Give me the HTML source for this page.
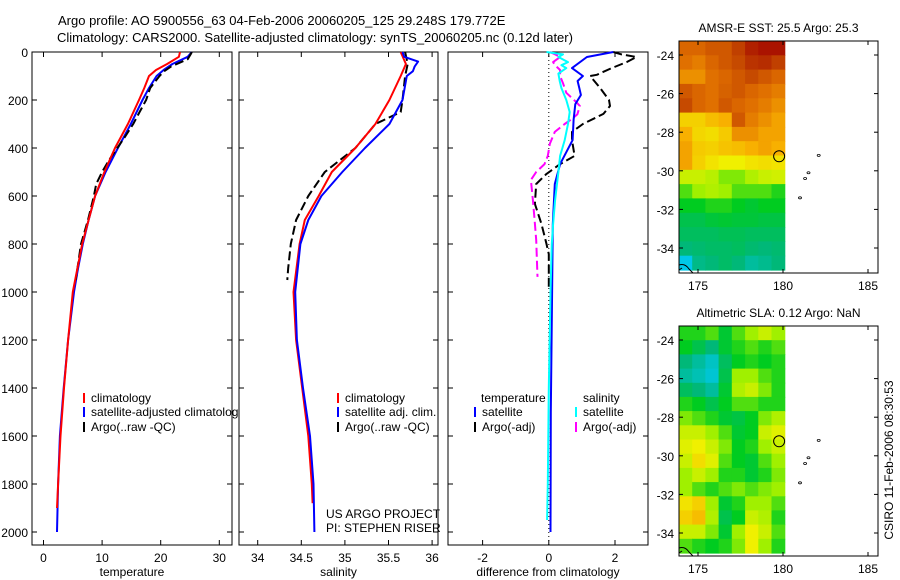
<!DOCTYPE html>
<html><head><meta charset="utf-8"><title>Argo profile</title>
<style>
html,body{margin:0;padding:0;background:#fff;}
svg{display:block;font-family:"Liberation Sans",sans-serif;}
text{font-size:12px;fill:#000;}
</style></head>
<body>
<svg id="fig" width="900" height="580" viewBox="0 0 900 580" xmlns="http://www.w3.org/2000/svg">
<rect x="0" y="0" width="900" height="580" fill="#fff"/>
<text x="58" y="25" style="font-size:13px">Argo profile: AO 5900556_63 04-Feb-2006 20060205_125 29.248S 179.772E</text>
<text x="57" y="42" style="font-size:13px">Climatology: CARS2000. Satellite-adjusted climatology: synTS_20060205.nc (0.12d later)</text>
<text transform="translate(893,460) rotate(-90)" text-anchor="middle">CSIRO 11-Feb-2006 08:30:53</text>
</svg>
<script>
// ---------- DATA ----------
const depthTicks = [0,200,400,600,800,1000,1200,1400,1600,1800,2000];
const tempTicks = [0,10,20,30];
const salTicks = [34,34.5,35,35.5,36];
const diffTicks = [-2,0,2];

const tClimDepth = [0,20,50,75,100,150,200,300,400,500,600,700,800,900,1000,1200,1400,1600,1800,1900];
const tClimVal   = [23.3,23.1,21.1,19.2,18.0,17.2,16.3,14.4,12.2,10.4,8.8,7.7,6.6,5.8,5.0,4.2,3.5,2.9,2.5,2.3];
const tSatDepth  = [0,20,50,75,100,150,200,300,400,500,600,700,800,900,1000,1200,1400,1600,1800,2000];
const tSatVal    = [25.3,24.6,22.0,20.5,19.3,18.0,16.9,14.9,12.7,10.6,8.8,7.7,6.7,5.9,5.2,4.2,3.45,2.8,2.5,2.3];
const tArgoDepth = [0,10,30,60,80,100,150,200,250,300,350,400,450,500,550,600,700,800,900,950];
const tArgoVal   = [25.3,25.1,24.6,21.8,20.6,19.8,18.2,17.5,16.4,15.3,14.0,12.6,11.2,10.0,9.0,8.6,7.6,6.4,5.8,5.5];

const sClimDepth = [0,50,100,200,300,400,500,600,700,800,1000,1200,1400,1600,1800,1880];
const sClimVal   = [35.64,35.70,35.64,35.51,35.35,35.12,34.85,34.70,34.54,34.48,34.41,34.44,34.51,34.58,34.62,34.63];
const sSatDepth  = [0,20,40,60,80,100,200,300,400,500,600,700,800,1000,1200,1400,1600,1800,2000];
const sSatVal    = [35.66,35.68,35.84,35.80,35.78,35.71,35.66,35.51,35.23,34.97,34.73,34.58,34.49,34.43,34.45,34.52,34.60,34.64,34.65];
const sArgoDepth = [0,50,100,200,250,300,400,500,600,700,800,900,950];
const sArgoVal   = [35.69,35.72,35.69,35.66,35.64,35.35,35.12,34.77,34.58,34.44,34.38,34.35,34.34];

const dTSatDepth = [0,21,67,100,121,150,179,217,283,367,467,550,717,1000,1500,2000];
const dTSatVal   = [1.95,1.15,0.7,1.03,0.87,0.92,0.97,0.8,0.75,0.72,0.34,0.18,0.12,0.1,0.06,0.05];
const dTArgoDepth = [0,10,21,42,67,95,100,150,200,225,258,300,333,367,433,467,508,550,633,717,800,842,990];
const dTArgoVal   = [1.95,2.2,2.65,2.35,1.9,1.45,1.25,1.55,1.82,1.85,1.65,1.03,0.7,0.7,0.78,0.34,-0.07,-0.38,-0.42,-0.22,-0.07,0,0];
const dSSatDepth = [0,10,21,42,55,67,90,121,150,200,250,300,367,433,500,617,717,800,1000,1400,1800,1950];
const dSSatVal   = [-0.07,0.43,0.29,0.58,0.38,0.53,0.29,0.33,0.38,0.53,0.63,0.58,0.48,0.34,0.29,0.19,0.13,0.09,0.05,0.0,-0.03,-0.05];
const dSArgoDepth = [0,10,21,42,55,75,100,130,170,210,225,260,280,300,333,383,433,467,500,533,617,700,783,937];
const dSArgoVal   = [0.03,0.19,0.34,0.13,0.19,0.34,0.34,0.43,0.53,0.84,0.94,0.86,0.69,0.48,0.18,0.03,-0.03,-0.13,-0.38,-0.54,-0.48,-0.43,-0.38,-0.34];

const lonTicks = [175,180,185];
const latTicks = [-24,-26,-28,-30,-32,-34];
const islandLon = [182.1,181.5,181.3,181.0];
const islandLat = [-29.2,-30.1,-30.4,-31.4];
const sstGrid = [
[0.82,0.82,0.85,0.85,0.9,0.95,0.97,0.97],
[0.8,0.78,0.82,0.85,0.88,0.92,0.93,0.9],
[0.75,0.75,0.8,0.82,0.85,0.88,0.85,0.82],
[0.85,0.82,0.8,0.83,0.85,0.82,0.8,0.78],
[0.88,0.82,0.8,0.85,0.82,0.8,0.78,0.75],
[0.65,0.65,0.68,0.7,0.85,0.78,0.75,0.72],
[0.7,0.64,0.63,0.66,0.75,0.75,0.72,0.72],
[0.72,0.66,0.65,0.67,0.68,0.7,0.72,0.7],
[0.72,0.65,0.62,0.6,0.6,0.62,0.63,0.62],
[0.55,0.55,0.53,0.48,0.48,0.52,0.55,0.56],
[0.45,0.5,0.52,0.5,0.45,0.45,0.45,0.42],
[0.4,0.4,0.42,0.42,0.4,0.38,0.4,0.4],
[0.35,0.35,0.37,0.38,0.37,0.37,0.36,0.36],
[0.33,0.33,0.33,0.34,0.34,0.33,0.33,0.33],
[0.3,0.31,0.32,0.32,0.33,0.31,0.3,0.31],
[0.15,0.28,0.3,0.32,0.3,0.25,0.27,0.3]];
const slaGrid = [
[0.42,0.42,0.45,0.38,0.45,0.5,0.55,0.5],
[0.4,0.35,0.3,0.38,0.42,0.45,0.42,0.45],
[0.3,0.25,0.2,0.33,0.4,0.42,0.4,0.42],
[0.25,0.22,0.18,0.35,0.5,0.5,0.45,0.42],
[0.33,0.3,0.25,0.38,0.52,0.55,0.48,0.42],
[0.42,0.4,0.35,0.4,0.45,0.45,0.42,0.42],
[0.48,0.45,0.42,0.38,0.36,0.4,0.48,0.52],
[0.55,0.55,0.5,0.45,0.38,0.4,0.55,0.58],
[0.58,0.6,0.55,0.48,0.4,0.42,0.5,0.55],
[0.55,0.63,0.58,0.45,0.4,0.38,0.45,0.5],
[0.5,0.55,0.5,0.42,0.42,0.38,0.42,0.48],
[0.5,0.45,0.42,0.45,0.48,0.45,0.48,0.5],
[0.62,0.65,0.5,0.38,0.42,0.5,0.5,0.45],
[0.65,0.68,0.52,0.35,0.4,0.55,0.52,0.42],
[0.55,0.55,0.48,0.38,0.5,0.6,0.55,0.45],
[0.45,0.42,0.4,0.42,0.48,0.6,0.5,0.42]];

// ---------- helpers ----------
const svg = document.getElementById('fig');
const NS = 'http://www.w3.org/2000/svg';
function mk(tag, attrs, parent){
  const e = document.createElementNS(NS, tag);
  for (const k in attrs) e.setAttribute(k, attrs[k]);
  (parent||svg).appendChild(e);
  return e;
}
function txt(x,y,s,anchor,parent){
  const t = mk('text',{x:x,y:y,'text-anchor':anchor||'start'},parent);
  t.textContent = s;
  return t;
}
const Y0=52, PXM=0.24, TOP=52, BOT=545;
function yD(d){ return Y0 + d*PXM; }
const panels = [
 {name:'temperature', x0:32, x1:232, fx:v=>43.5+5.86*v, ticks:tempTicks, label:'temperature'},
 {name:'salinity', x0:239, x1:438, fx:v=>257.7+87.2*(v-34), ticks:salTicks, label:'salinity'},
 {name:'difference', x0:448, x1:648, fx:v=>548.8+33.1*v, ticks:diffTicks, label:'difference from climatology'}
];
function line(p, depths, vals, color, dash, nm){
  const pts = depths.map((d,i)=>p.fx(vals[i]).toFixed(1)+','+yD(d).toFixed(1)).join(' ');
  const a = {points:pts, fill:'none', stroke:color, 'stroke-width':2, 'stroke-linejoin':'round'};
  if (dash) a['stroke-dasharray']=dash;
  const e = mk('polyline', a);
  
  
}
function panelFrame(p, idx){
  const r = mk('rect',{x:p.x0,y:TOP,width:p.x1-p.x0,height:BOT-TOP,fill:'#fff',stroke:'#000','stroke-width':1});
  
  
  depthTicks.forEach(d=>{
    const y=yD(d);
    const t1 = mk('line',{x1:p.x0,y1:y,x2:p.x0+5,y2:y,stroke:'#000'});
    
    
    const t2 = mk('line',{x1:p.x1-5,y1:y,x2:p.x1,y2:y,stroke:'#000'});
    
    
    if (idx===0){
      const l = txt(28,y+5,String(d),'end');
      
      
    }
  });
  p.ticks.forEach(v=>{
    const x=p.fx(v);
    const a = mk('line',{x1:x,y1:BOT,x2:x,y2:BOT-5,stroke:'#000'});
    
    
    const b = mk('line',{x1:x,y1:TOP,x2:x,y2:TOP+5,stroke:'#000'});
    
    
    const l = txt(x,562,String(v),'middle');
    
    
  });
  const t = txt((p.x0+p.x1)/2,576,p.label,'middle');
  
  
}
function legendRow(x,y,color,label){
  const m = mk('line',{x1:x,y1:y-9,x2:x,y2:y+1,stroke:color,'stroke-width':2});
  
  
  const t = txt(x+7,y,label);
  
  
}

// ---------- Panel 1: temperature ----------
const P1=panels[0];
panelFrame(P1,0);
line(P1,tSatDepth,tSatVal,'#0000ff',null,'temperature-satellite-line');
line(P1,tArgoDepth,tArgoVal,'#000',"9,4",'temperature-argo-line');
line(P1,tClimDepth,tClimVal,'#ff0000',null,'temperature-climatology-line');
legendRow(84,402,'#ff0000','climatology');
legendRow(84,416,'#0000ff','satellite-adjusted climatology');
legendRow(84,431,'#000','Argo(..raw -QC)');

// ---------- Panel 2: salinity ----------
const P2=panels[1];
panelFrame(P2,1);
line(P2,sArgoDepth,sArgoVal,'#000',"9,4",'salinity-argo-line');
line(P2,sClimDepth,sClimVal,'#ff0000',null,'salinity-climatology-line');
line(P2,sSatDepth,sSatVal,'#0000ff',null,'salinity-satellite-line');
legendRow(338,402,'#ff0000','climatology');
legendRow(338,416,'#0000ff','satellite adj. clim.');
legendRow(338,431,'#000','Argo(..raw -QC)');
const u1=txt(326,518,'US ARGO PROJECT');


const u2=txt(326,532,'PI: STEPHEN RISER');



// ---------- Panel 3: differences ----------
const P3=panels[2];
panelFrame(P3,2);
const zl = mk('line',{x1:P3.fx(0),y1:TOP,x2:P3.fx(0),y2:BOT,stroke:'#000','stroke-dasharray':'1,3'});


line(P3,dTArgoDepth,dTArgoVal,'#000',"9,4",'diff-temperature-argo-line');
line(P3,dSArgoDepth,dSArgoVal,'#ff00ff',"9,4",'diff-salinity-argo-line');
line(P3,dTSatDepth,dTSatVal,'#0000ff',null,'diff-temperature-satellite-line');
line(P3,dSSatDepth,dSSatVal,'#00ffff',null,'diff-salinity-satellite-line');
const lh1=txt(481,402,'temperature');


const lh2=txt(583,402,'salinity');


legendRow(475,416,'#0000ff','satellite');
legendRow(475,431,'#000','Argo(-adj)');
legendRow(576,416,'#00ffff','satellite');
legendRow(576,431,'#ff00ff','Argo(-adj)');

// ---------- Maps ----------
const cmapStops=[[0,[0,128,255]],[0.15,[0,200,232]],[0.3,[0,184,120]],[0.4,[0,204,32]],[0.5,[160,240,0]],[0.6,[240,240,0]],[0.7,[248,176,0]],[0.8,[224,112,0]],[0.9,[192,64,0]],[1,[160,0,0]]];
function cmap(v){
  for(let i=1;i<cmapStops.length;i++){
    if(v<=cmapStops[i][0]){
      const a=cmapStops[i-1],b=cmapStops[i],f=(v-a[0])/(b[0]-a[0]);
      return 'rgb('+a[1].map((c,j)=>Math.round(c+(b[1][j]-c)*f)).join(',')+')';
    }
  }
  return 'rgb(160,0,0)';
}
function drawMap(top, bottom, title, grid, nm){
  const X0=679, X1=878;
  const fx=lon=>783+17*(lon-180);
  const latTopPx = top+14; // lat -24 position
  const fy=lat=>latTopPx+19.3*(-24-lat);
  const g = mk('g',{});
  
  
  const rows=grid.length, cols=grid[0].length;
  const cw=(fx(180.1)-X0)/cols, ch=(bottom-3-top)/rows;
  for(let r=0;r<rows;r++) for(let c=0;c<cols;c++){
    const cell = mk('rect',{x:(X0+c*cw).toFixed(1),y:(top+r*ch).toFixed(1),width:(cw+0.6).toFixed(1),height:(ch+0.6).toFixed(1),fill:cmap(grid[r][c])},g);
    
    
  }
  const fr = mk('rect',{x:X0,y:top,width:X1-X0,height:bottom-top,fill:'none',stroke:'#000'});
  
  
  lonTicks.forEach(l=>{
    const x=fx(l);
    const a=mk('line',{x1:x,y1:bottom,x2:x,y2:bottom-4,stroke:'#000'});
    
    
    const b=mk('line',{x1:x,y1:top,x2:x,y2:top+4,stroke:'#000'});
    
    
    const t=txt(x,bottom+17,String(l),'middle');
    
    
  });
  latTicks.forEach(l=>{
    const y=fy(l);
    const a=mk('line',{x1:X0,y1:y,x2:X0+4,y2:y,stroke:'#000'});
    
    
    const b=mk('line',{x1:X1-4,y1:y,x2:X1,y2:y,stroke:'#000'});
    
    
    const t=txt(674,y+5,String(l),'end');
    
    
  });
  islandLon.forEach((lo,i)=>{
    const e=mk('ellipse',{cx:fx(lo),cy:fy(islandLat[i]),rx:1.5,ry:1,fill:'none',stroke:'#000','stroke-width':0.8});
    
    
  });
  const cst=mk('path',{d:'M'+X0+' '+(bottom-8)+' q6 -2 10 4 l4 4 M'+X0+' '+(bottom-3)+' l3 -2',fill:'none',stroke:'#000'});
  
  
  const c=mk('circle',{cx:fx(179.772),cy:fy(-29.248),r:5.5,fill:'none',stroke:'#000','stroke-width':1});
  
  
  const t=txt((X0+X1)/2,top-9,title,'middle');
  
  
}
drawMap(41,273,'AMSR-E SST: 25.5 Argo: 25.3',sstGrid,'sst-map');
drawMap(326,556,'Altimetric SLA: 0.12 Argo: NaN',slaGrid,'sla-map');
</script>
</body></html>
